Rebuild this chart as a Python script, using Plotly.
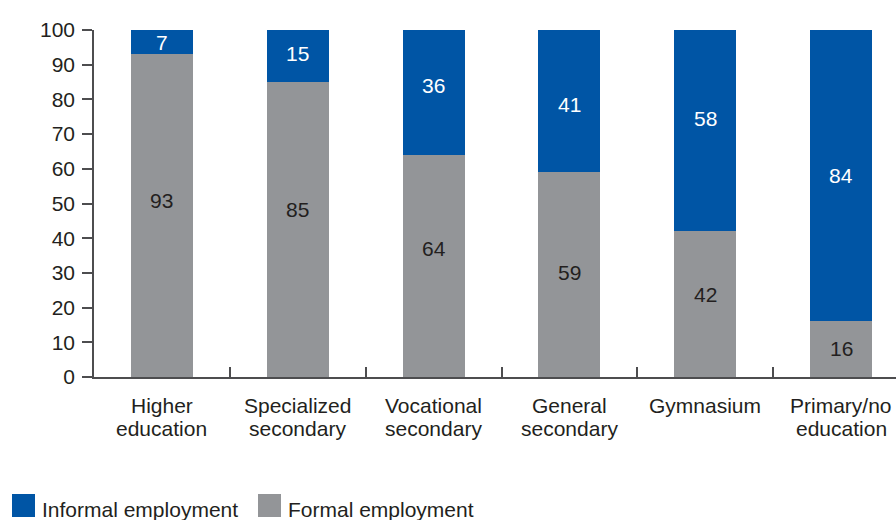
import plotly.graph_objects as go

# Employment by level of education, % of employed
categories = ["Higher education", "Specialized secondary", "Vocational secondary",
              "General secondary", "Gymnasium", "Primary/no education"]
label_lines = [["Higher", "education"], ["Specialized", "secondary"], ["Vocational", "secondary"],
               ["General", "secondary"], ["Gymnasium"], ["Primary/no", "education"]]
formal = [93, 85, 64, 59, 42, 16]
informal = [7, 15, 36, 41, 58, 84]
y_ticks = list(range(0, 101, 10))

# nudges (px) applied to the value labels inside each segment
formal_label_shift = [15, 20, 17, 2, 10, 1]
informal_label_shift = [0, 3, 7, -3, 12, 0]

BLUE = "#0055a5"
GRAY = "#939598"
TEXT = "#231f20"
AXIS = "#4d4d4f"
FONT = "Liberation Sans, Arial, sans-serif"
FS = 21

# plot area geometry (px)
L, T, B = 94, 30, 143
PLOT_W, PLOT_H = 896 - L, 520 - T - B
AXIS_Y = 520 - B


def paper_y(py):
    return (AXIS_Y - py) / PLOT_H


def paper_x(px):
    return (px - L) / PLOT_W


fig = go.Figure()
fig.add_trace(go.Bar(
    x=categories, y=formal, name="Formal employment",
    marker=dict(color=GRAY, line=dict(width=0)), showlegend=False,
))
fig.add_trace(go.Bar(
    x=categories, y=informal, name="Informal employment",
    marker=dict(color=BLUE, line=dict(width=0)), showlegend=False,
))

# value labels centred in each stacked segment
for cat, f, i, fs, ish in zip(categories, formal, informal,
                              formal_label_shift, informal_label_shift):
    fig.add_annotation(x=cat, y=f / 2, text=str(f), showarrow=False, yshift=fs,
                       xanchor="center", yanchor="middle",
                       font=dict(size=FS, color=TEXT, family=FONT))
    fig.add_annotation(x=cat, y=f + i / 2, text=str(i), showarrow=False, yshift=ish,
                       xanchor="center", yanchor="middle",
                       font=dict(size=FS, color="white", family=FONT))

# category labels, one annotation per line
for cat, lines in zip(categories, label_lines):
    for k, line in enumerate(lines):
        fig.add_annotation(x=cat, xref="x", yref="paper", y=paper_y(405.7 + 22.5 * k),
                           text=line, showarrow=False, xanchor="center", yanchor="middle",
                           font=dict(size=FS, color=TEXT, family=FONT))

fig.update_layout(
    barmode="stack",
    bargap=0.544,
    width=896, height=520,
    margin=dict(l=L, r=0, t=T, b=B),
    paper_bgcolor="white", plot_bgcolor="white",
    font=dict(family=FONT, size=FS, color=TEXT),
    xaxis=dict(
        range=[-0.5, 5.404],
        showline=True, linecolor=AXIS, linewidth=1.5,
        ticks="inside", tickson="boundaries", ticklen=10, tickcolor=AXIS, tickwidth=1.5,
        showticklabels=False,
        showgrid=False, zeroline=False,
    ),
    yaxis=dict(
        range=[0, 100], tickvals=y_ticks,
        showline=True, linecolor=AXIS, linewidth=1.5,
        ticks="outside", ticklen=10, tickcolor=AXIS, tickwidth=1.5,
        ticklabelstandoff=3,
        tickfont=dict(size=FS, color=TEXT, family=FONT),
        showgrid=False, zeroline=False,
    ),
)

# legend: swatches and labels below the chart
legend_items = [("Informal employment", BLUE, 12), ("Formal employment", GRAY, 258)]
for label, color, x0 in legend_items:
    fig.add_shape(type="rect", xref="paper", yref="paper",
                  x0=paper_x(x0), x1=paper_x(x0 + 23),
                  y0=paper_y(517), y1=paper_y(494),
                  fillcolor=color, line=dict(width=0))
    fig.add_annotation(text=label, xref="paper", yref="paper",
                       x=paper_x(x0 + 28), y=paper_y(509.7),
                       xanchor="left", yanchor="middle", showarrow=False,
                       font=dict(size=FS, color=TEXT, family=FONT))

fig.write_html("out.html")
